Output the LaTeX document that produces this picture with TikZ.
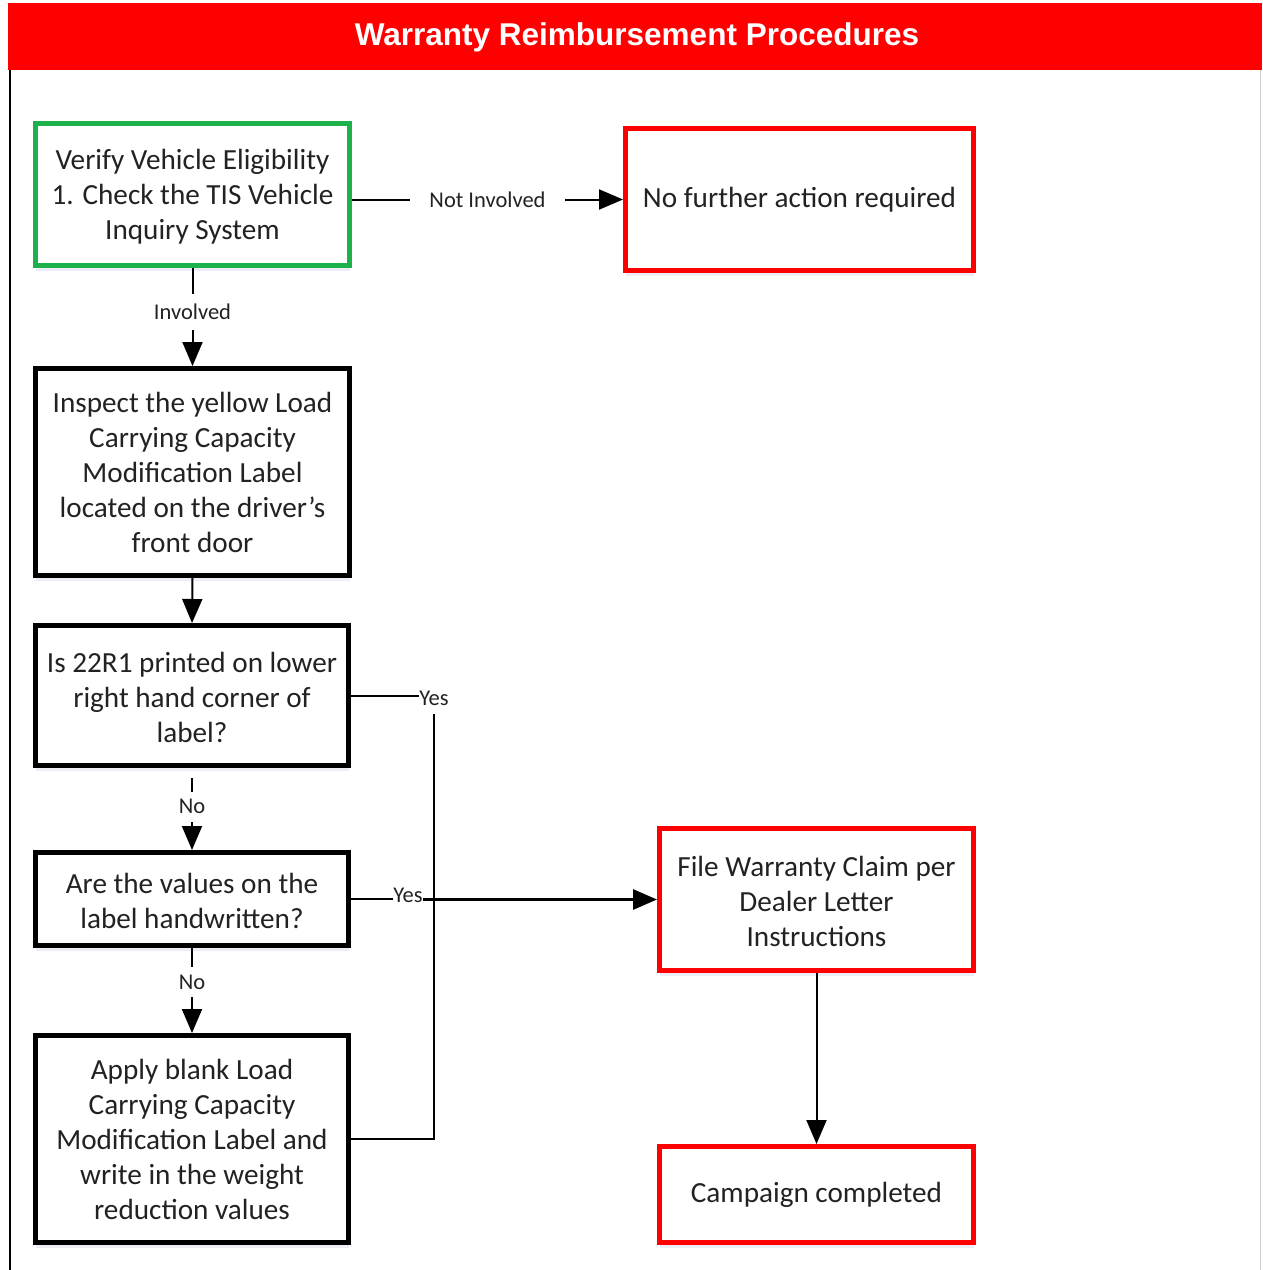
\documentclass[tikz,border=0pt]{standalone}
\usepackage{fontspec}
\setmainfont{Carlito}
\newfontfamily\headfont{Liberation Sans}
\usetikzlibrary{arrows.meta,shadows}
\definecolor{okgreen}{HTML}{1DB14B}
\definecolor{txtgray}{HTML}{222222}
\tikzset{
  boxbase/.style={draw, line width=5pt, align=center, inner sep=0pt,
    font=\fontsize{29.2}{35}\selectfont, text=txtgray, fill=white,
    drop shadow={shadow xshift=0pt, shadow yshift=-5pt, opacity=0.10, fill=blue!40!gray}},
  blackbox/.style={boxbase, draw=black},
  redbox/.style={boxbase, draw=red},
  greenbox/.style={boxbase, draw=okgreen},
  lbl/.style={font=\fontsize{22.5}{26}\selectfont, text=txtgray, inner sep=0pt},
  conn/.style={line width=2pt, draw=black},
  arr/.style={conn, -{Triangle[length=24pt,width=20pt]}},
  thickarr/.style={line width=3pt, -{Triangle[length=24pt,width=20pt]}}
}
\begin{document}
\begin{tikzpicture}[x=1pt,y=-1pt]
\useasboundingbox (0,0) rectangle (1262,1270);
% frame
\fill[red] (8,3) rectangle (1262,70);
\node[font=\headfont\bfseries\fontsize{31.5}{36}\selectfont, text=white] (title) at (637,37) {Warranty Reimbursement Procedures};
\draw[line width=2.5pt] (10,70) -- (10,1270);
\draw[line width=1pt, gray!40] (1260,70) -- (1260,1270);

% boxes
\node[greenbox, minimum width=314pt, minimum height=142pt] (verify) at (192.5,194.5)
  {\strut Verify Vehicle Eligibility\\1. Check the TIS Vehicle\\Inquiry System};
\node[redbox, minimum width=348pt, minimum height=142pt] (nofurther) at (799.5,199.5)
  {No further action required};
\node[blackbox, minimum width=314pt, minimum height=207pt] (inspect) at (192.5,472)
  {Inspect the yellow Load\\Carrying Capacity\\Modification Label\\located on the driver’s\\front door};
\node[blackbox, minimum width=313pt, minimum height=140pt] (is22) at (192,695.5)
  {\strut Is 22R1 printed on lower\\right hand corner of\\label?};
\node[blackbox, minimum width=313pt, minimum height=93pt] (are) at (192,899)
  {\strut Are the values on the\\label handwritten?};
\node[blackbox, minimum width=313pt, minimum height=207pt] (apply) at (192,1139)
  {Apply blank Load\\Carrying Capacity\\Modification Label and\\write in the weight\\reduction values};
\node[redbox, minimum width=314pt, minimum height=142pt] (file) at (816.5,899.5)
  {\strut File Warranty Claim per\\Dealer Letter\\Instructions};
\node[redbox, minimum width=314pt, minimum height=96pt] (camp) at (816.5,1194.5)
  {Campaign completed};

% connectors
\draw[arr] (verify.east |- nofurther.west) -- node[lbl, fill=white, inner xsep=19pt, inner ysep=3pt] {Not Involved} (nofurther.west);
\draw[arr] (verify.south) -- node[lbl, fill=white, pos=0.45, inner ysep=10pt] {Involved} (inspect.north);
\draw[arr] (inspect.south) -- (is22.north);
\draw[arr] ([yshift=-10pt]is22.south) -- node[lbl, fill=white, pos=0.4, inner ysep=8pt] {No} (are.north);
\draw[arr] (are.south) -- node[lbl, fill=white, pos=0.4, inner ysep=8pt] {No} (apply.north);

\node[lbl] (yes1) at (434,698) {Yes};
\draw[conn] (is22.east) -- (is22.east -| yes1.west);
\draw[conn] (apply.east) -| ([yshift=-8pt]yes1.south);

\node[lbl, anchor=base] (yes2) at (408,902) {Yes};
\draw[conn] (are.east) -- (are.east -| yes2.west);
\draw[thickarr] (yes2.base east |- file.west) -- (file.west);

\draw[arr] (file.south) -- (camp.north);
\end{tikzpicture}
\end{document}
